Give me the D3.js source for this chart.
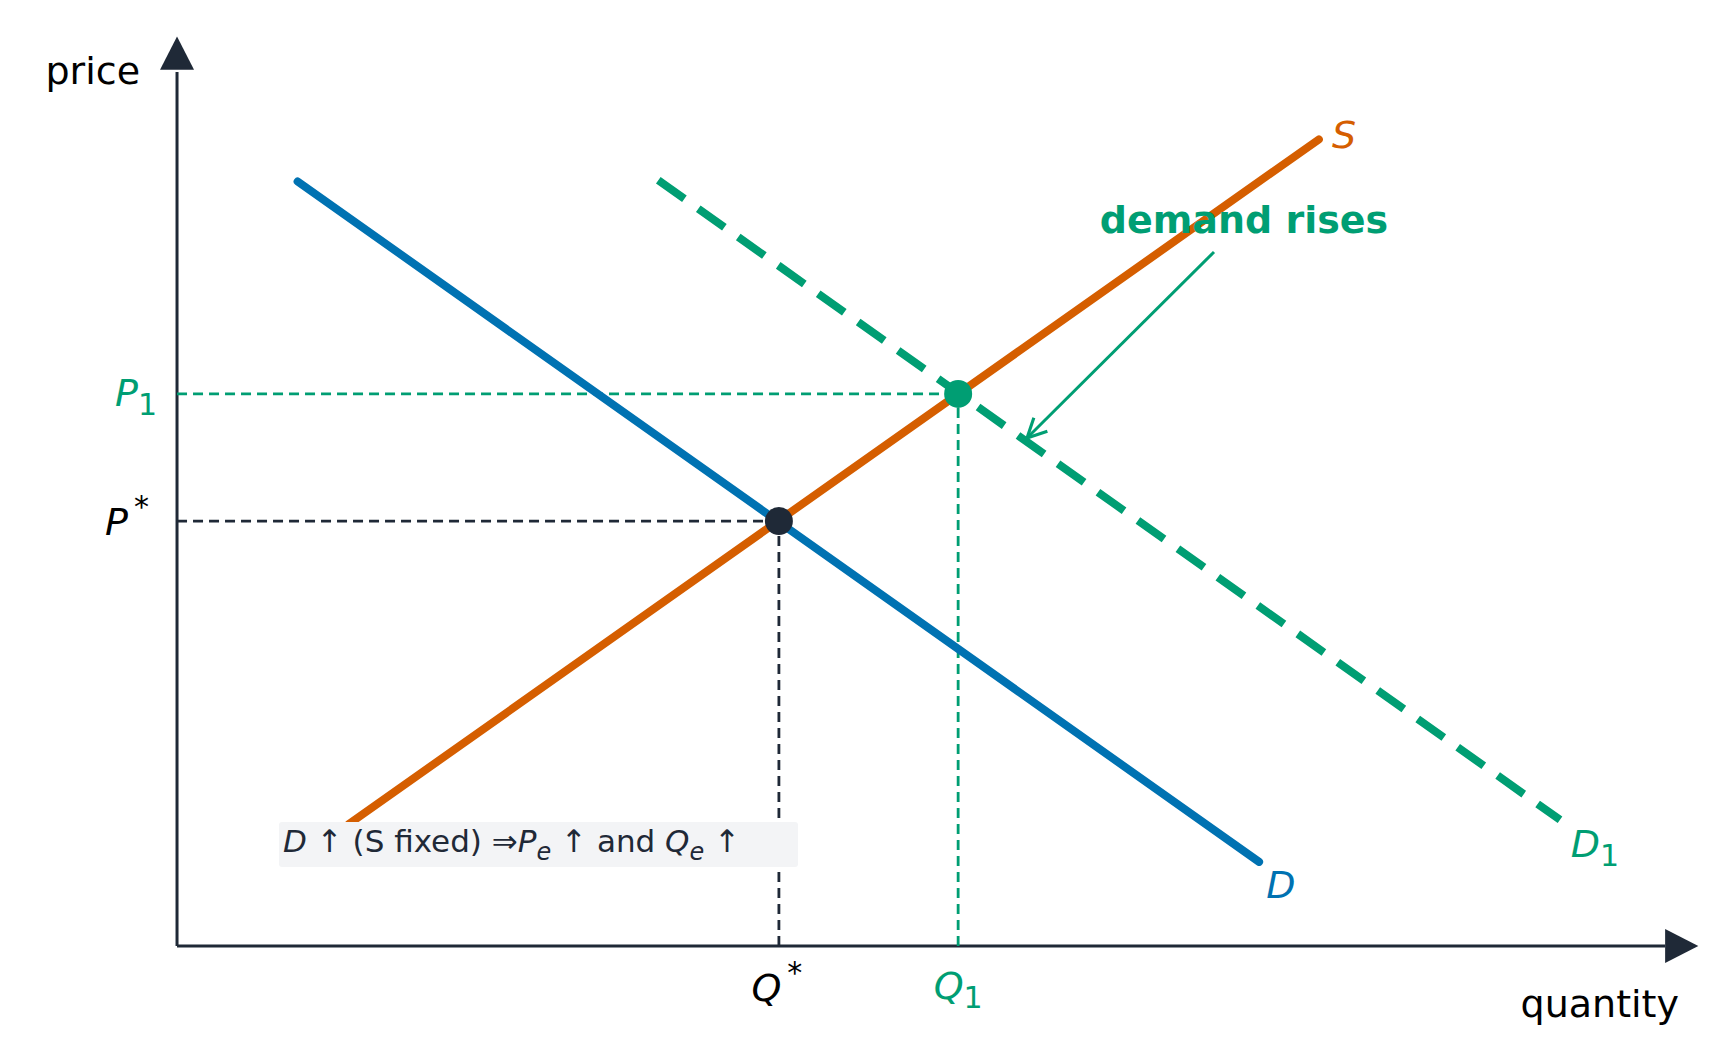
<!DOCTYPE html>
<html><head><meta charset="utf-8">
<script src="https://cdn.jsdelivr.net/npm/d3@7"></script>
<style>body{margin:0;background:#fff}svg{display:block;font-family:"DejaVu Sans",sans-serif}</style>
</head><body><svg id="c" width="1726" height="1062"></svg>
<script>
// data (quantity, price) units
const demandD  = [[1.09,6.91],[9.78,0.76]];
const supplyS  = [[1.55,1.10],[10.32,7.29]];
const demandD1 = [[4.35,6.92],[12.50,1.14]];
const eq0 = [5.44,3.84];
const eq1 = [7.06,4.99];
const k = 1.1064;
const svg = d3.select("#c");
const x = d3.scaleLinear().domain([0,13.75]).range([160*k,1535*k]);
const y = d3.scaleLinear().domain([0,8.22]).range([855*k,33*k]);
const line = d3.line().x(d=>x(d[0])).y(d=>y(d[1]));
const C = {ax:"#1f2937",blue:"#0072b2",orange:"#d55e00",green:"#009e73",dark:"#1f2937"};
// axes
svg.append("line").attr("x1",x(0)).attr("y1",y(0)).attr("x2",x(0)).attr("y2",y(7.9)).attr("stroke",C.ax).attr("stroke-width",3);
svg.append("line").attr("x1",x(0)).attr("y1",y(0)).attr("x2",x(13.45)).attr("y2",y(0)).attr("stroke",C.ax).attr("stroke-width",3);
svg.append("path").attr("d",`M${x(0)-17},${y(7.92)}L${x(0)+17},${y(7.92)}L${x(0)},${y(8.22)}Z`).attr("fill",C.ax);
svg.append("path").attr("d",`M${x(13.45)},${y(0)-17}L${x(13.45)},${y(0)+17}L${x(13.75)},${y(0)}Z`).attr("fill",C.ax);
svg.append("text").attr("x",x(0)-37).attr("y",84).attr("text-anchor","end").attr("font-size",38).text("price");
svg.append("text").attr("x",1679).attr("y",1017).attr("text-anchor","end").attr("font-size",38).text("quantity");
// guides
function guide(p,col){
  svg.append("path").attr("d",line([[0,p[1]],p])).attr("stroke",col).attr("stroke-width",2.8).attr("stroke-dasharray","10,6").attr("fill","none");
  svg.append("path").attr("d",line([[p[0],0],p])).attr("stroke",col).attr("stroke-width",2.8).attr("stroke-dasharray","10,6").attr("fill","none");
}
guide(eq0,C.dark); guide(eq1,C.green);
// curves
svg.append("path").attr("d",line(demandD1)).attr("stroke",C.green).attr("stroke-width",8).attr("stroke-dasharray","32,17").attr("fill","none");
svg.append("path").attr("d",line(demandD)).attr("stroke",C.blue).attr("stroke-width",8).attr("stroke-linecap","round").attr("fill","none");
svg.append("path").attr("d",line(supplyS)).attr("stroke",C.orange).attr("stroke-width",8).attr("stroke-linecap","round").attr("fill","none");
svg.append("circle").attr("cx",x(eq0[0])).attr("cy",y(eq0[1])).attr("r",14).attr("fill",C.dark);
svg.append("circle").attr("cx",x(eq1[0])).attr("cy",y(eq1[1])).attr("r",14).attr("fill",C.green);
// labels
function lab(t,sub,xx,yy,col,anchor,sup){
  const tx=svg.append("text").attr("x",xx).attr("y",yy).attr("fill",col).attr("font-size",38).attr("text-anchor",anchor||"middle");
  tx.append("tspan").attr("font-style","italic").text(t);
  if(sub) tx.append("tspan").attr("font-size",30).attr("dy",9).text(sub);
  if(sup) tx.append("tspan").attr("font-size",30).attr("dy",-18).attr("dx",6).text(sup);
}
lab("P","1",x(0)-20,y(eq1[1])+12,C.green,"end");
lab("P",null,x(0)-28,y(eq0[1])+14,"#000","end","*");
lab("Q",null,x(eq0[0])-2,y(0)+55,"#000","middle","*");
lab("Q","1",x(eq1[0]),y(0)+53,C.green,"middle");
lab("S",null,1344,148,C.orange,"middle");
lab("D",null,1281,898,C.blue,"middle");
lab("D","1",1595,857,C.green,"middle");
svg.append("text").attr("x",1244).attr("y",233).attr("text-anchor","middle").attr("font-size",38).attr("font-weight","bold").attr("fill",C.green).text("demand rises");
svg.append("defs").append("marker").attr("id","ah").attr("viewBox","0 0 10 10").attr("refX",9).attr("refY",5).attr("markerWidth",8).attr("markerHeight",8).attr("orient","auto")
  .append("path").attr("d","M1,1L9,5L1,9").attr("stroke",C.green).attr("stroke-width",1.3).attr("fill","none");
svg.append("line").attr("x1",1214).attr("y1",252).attr("x2",1027).attr("y2",438).attr("stroke",C.green).attr("stroke-width",3).attr("marker-end","url(#ah)");
// annotation
svg.append("rect").attr("x",279).attr("y",822).attr("width",519).attr("height",45).attr("rx",3).attr("fill","#f3f4f6");
const an=svg.append("text").attr("x",283).attr("y",852).attr("font-size",31).attr("fill","#1f2937");
an.append("tspan").attr("font-style","italic").text("D");
an.append("tspan").text(" ↑  (S fixed) ⇒");
an.append("tspan").attr("font-style","italic").text("P");
an.append("tspan").attr("font-style","italic").attr("font-size",24).attr("dy",8).text("e");
an.append("tspan").attr("dy",-8).text(" ↑  and ");
an.append("tspan").attr("font-style","italic").text("Q");
an.append("tspan").attr("font-style","italic").attr("font-size",24).attr("dy",8).text("e");
an.append("tspan").attr("dy",-8).text(" ↑");
</script></body></html>
